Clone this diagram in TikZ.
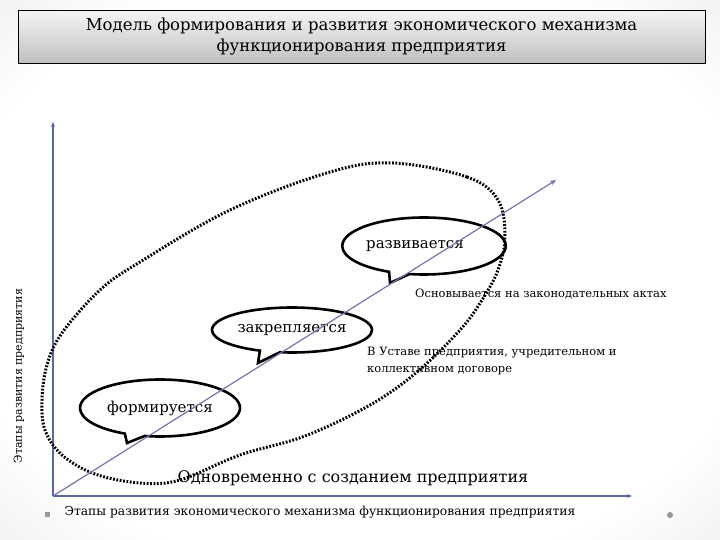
\documentclass[tikz,border=0pt]{standalone}
\usepackage{fontspec}
\setmainfont{DejaVu Serif}
\usetikzlibrary{arrows.meta,shapes.callouts,shapes.geometric}
\pgfdeclareradialshading{bgshade}{\pgfpoint{0bp}{0bp}}{color(0bp)=(white); color(28bp)=(white); color(50bp)=(black!14); color(71bp)=(black!28)}
\definecolor{axisblue}{HTML}{5A68A2}
\definecolor{diagblue}{HTML}{7474AC}
\begin{document}
\begin{tikzpicture}[x=1pt,y=-1pt,
  bubble/.style={ellipse callout, draw=black, line width=2.6pt, fill=white, inner sep=0pt, minimum width=160pt, font=\fontsize{15}{18}\selectfont},
  plaintext/.style={inner sep=0pt, font=\fontsize{12}{17}\selectfont, align=left},
  axisline/.style={draw=axisblue, line width=2pt, -{Stealth[length=5pt,width=4pt]}},
  diagline/.style={draw=diagblue, line width=1.2pt, -{Stealth[length=6pt,width=5pt]}},
  dottedloop/.style={draw=black, line width=3pt, dash pattern=on 1.8pt off 1.6pt},
  graydot/.style={circle, fill=black!40, inner sep=0pt, minimum size=6pt}
]
\useasboundingbox (0,0) rectangle (720,540);
\shade[shading=bgshade] (0,0) rectangle (720,540);

% title
\node[draw=black, line width=0.8pt, top color=black!4, bottom color=black!25, minimum width=687pt, minimum height=53pt, inner sep=0pt, align=center, font=\fontsize{16.5}{21}\selectfont] (title) at (361.5,37) {Модель формирования и развития экономического механизма\\функционирования предприятия};

% axes
\coordinate (origin) at (53,496);
\coordinate (ytop) at (53,122);
\coordinate (xend) at (632,496);
\coordinate (dend) at (556,180);
\draw[axisline] (origin) -- (ytop);
\draw[axisline, line width=2.4pt] (origin) -- (xend);

% bubbles
\node[bubble, minimum height=57pt, callout absolute pointer={(390,283)}] (razv) at (424,246) {развивается\hspace*{18pt}};
\node[bubble, minimum height=45pt, callout absolute pointer={(258,363)}] (zakr) at (292,330) {закрепляется};
\node[bubble, minimum height=57pt, callout absolute pointer={(127,443)}] (form) at (160,408) {формируется};

% dotted loop
\draw[dottedloop] plot[smooth cycle, tension=0.6] coordinates {(393,163) (467,177) (498,200) (505,237) (498,270) (482,300) (460,330) (417,372) (370,405) (305,436) (240,455) (180,480) (140,483) (95,474) (62,455) (45,430) (42,400) (47,365) (62,333) (100,290) (140,262) (230,210) (330,172)};

% diagonal
\draw[diagline] (origin) -- (dend);

% texts
\node[plaintext, anchor=base west, font=\fontsize{11.5}{14}\selectfont] (osn) at (415,297) {Основывается на законодательных актах};
\node[plaintext, anchor=north west, font=\fontsize{11.5}{16.5}\selectfont] (ustav) at (367,347) {В Уставе предприятия, учредительном и\\коллективном договоре};
\node[inner sep=0pt, font=\fontsize{16}{20}\selectfont] (odn) at (353,478) {Одновременно с созданием предприятия};
\node[inner sep=0pt, font=\fontsize{12.3}{15}\selectfont] (xlabel) at (320,512) {Этапы развития экономического механизма функционирования предприятия};
\node[inner sep=0pt, rotate=90, font=\fontsize{11}{14}\selectfont] (ylabel) at (19,376) {Этапы развития предприятия};

% dots
\node[graydot, rectangle, minimum size=5pt] (dotl) at (47,514) {};
\node[graydot] (dotr) at (670,515) {};
\end{tikzpicture}
\end{document}
